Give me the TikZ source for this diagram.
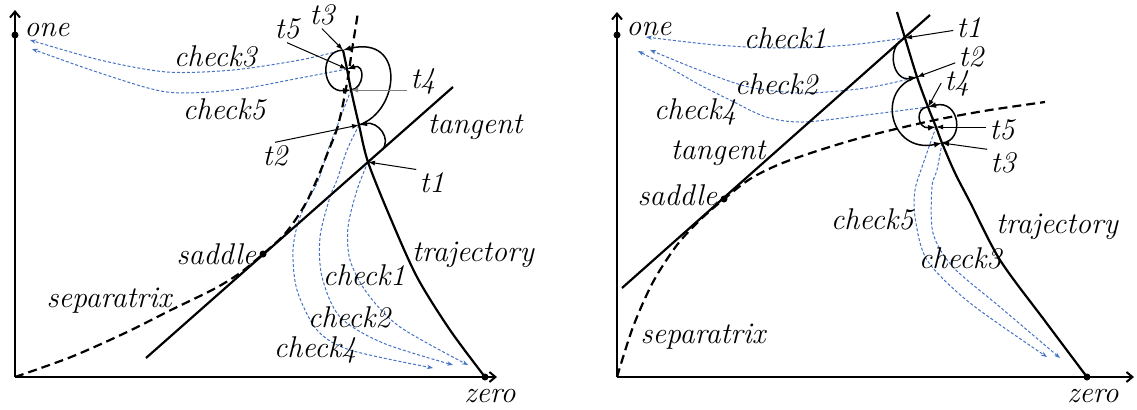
\documentclass[tikz,border=0pt]{standalone}
\usetikzlibrary{arrows.meta,positioning}
\definecolor{chkblue}{RGB}{68,114,196}
\begin{document}
\begin{tikzpicture}[x=0.5pt,y=0.5pt,
  lbl/.style={font=\fontsize{15}{17}\selectfont\itshape, inner sep=0pt},
  tlbl/.style={lbl, inner sep=1.5pt},
  blob/.style={circle, fill=black, inner sep=0pt, minimum size=3.5pt},
  axis/.style={line width=1pt, -{Straight Barb[length=3pt,width=5pt]}},
  curve/.style={line width=1.1pt},
  sepx/.style={line width=1.1pt, dash pattern=on 4.5pt off 2.5pt},
  turn/.style={line width=0.75pt, -{Latex[length=4pt,width=3pt]}},
  ptr/.style={line width=0.5pt, -{Latex[length=3.5pt,width=2.5pt]}},
  chk/.style={line width=0.5pt, chkblue, dash pattern=on 1.5pt off 1pt, -{Stealth[length=3pt,width=2.2pt]}}]
\useasboundingbox (0,0) rectangle (1137,409);
\coordinate (oL) at (15,32);
\node[blob] (oneL) at (15,374) {};
\node[blob] (zeroL) at (485,32) {};
\node[blob] (sadL) at (263,155) {};
\coordinate (tanLa) at (146,51);
\coordinate (tanLb) at (453,322);
\coordinate (a1L) at (382,259);
\coordinate (t1L) at (368,247);
\coordinate (t2L) at (359,284);
\coordinate (t4L) at (351,319);
\coordinate (t5L) at (347,340);
\coordinate (t3L) at (343,359);
\coordinate (e1L) at (468,44);
\coordinate (e2L) at (453,44);
\coordinate (e4L) at (433,41);
\coordinate (e3L) at (30,369);
\coordinate (e5L) at (32,360);
\draw[chk] plot[smooth] coordinates {(t1L) (357,219) (348,182) (350,149) (367,116) (400,82) (e1L)};
\draw[chk] plot[smooth] coordinates {(t2L) (347,259) (337,229) (330,212) (320,172) (322,132) (340,92) (383,66) (e2L)};
\draw[chk] plot[smooth] coordinates {(t4L) (338,285) (328,259) (318,228) (300,192) (293,159) (297,119) (317,79) (350,59) (e4L)};
\draw[chk] plot[smooth] coordinates {(t3L) (300,349) (233,339) (167,337) (100,349) (e3L)};
\draw[chk] plot[smooth] coordinates {(t5L) (300,331) (233,319) (167,317) (100,336) (e5L)};
\draw[axis] (oL) -- (15,399);
\draw[axis] (oL) -- (497,32);
\draw[curve] (tanLa) -- (tanLb);
\draw[curve] plot[smooth] coordinates {(zeroL.center) (450,79) (417,132) (390,192) (t1L) (t2L) (t4L) (t5L) (t3L)};
\draw[sepx] plot[smooth] coordinates {(oL) (71,52) (125,76) (171,99) (214,120) (240,136) (sadL.center) (283,173) (296,190) (307,208) (318,232) (328,257) (337,280) (343,305) (348,332) (352,359) (356,384) (358,397)};
\draw[turn] (a1L) .. controls (392,270) and (378,288) .. (t2L);
\draw[turn] (t2L) .. controls (400,298) and (406,374) .. (t3L);
\draw[turn] (t3L) .. controls (318,358) and (322,316) .. (t4L);
\draw[turn] (t4L) .. controls (364,320) and (366,346) .. (t5L);
\node[tlbl] (lt1L) at (432,226) {t1};
\node[tlbl] (lt2L) at (275,253) {t2};
\node[tlbl] (lt3L) at (322,394) {t3};
\node[tlbl] (lt4L) at (423,328) {t4};
\node[tlbl] (lt5L) at (287,380) {t5};
\draw[ptr] (lt1L.north west) -- (t1L);
\draw[ptr] (lt2L.north) -- (t2L);
\draw[ptr] (lt3L.south) -- (t3L);
\draw[ptr, black!50] (lt4L.west |- t4L) -- (t4L);
\draw[ptr] (lt5L.south) -- (t5L);
\node[lbl, right=2.5pt of oneL, yshift=2.5pt] (oneLt) {one};
\node[lbl, below=4pt of zeroL, xshift=2.5pt] (zeroLt) {zero};
\node[lbl, left=1.25pt of sadL] (sadLt) {saddle};
\node[lbl] (chk3Lt) at (215,353) {check3};
\node[lbl] (chk5Lt) at (224,300) {check5};
\node[lbl] (chk1Lt) at (364,134) {check1};
\node[lbl] (chk2Lt) at (349,92) {check2};
\node[lbl] (chk4Lt) at (315,59) {check4};
\node[lbl] (trajLt) at (473,154) {trajectory};
\node[lbl] (tanLt) at (475,282) {tangent};
\node[lbl] (sepLt) at (109,108) {separatrix};
\coordinate (oR) at (617,32);
\node[blob] (oneR) at (617,374) {};
\node[blob] (zeroR) at (1087,32) {};
\node[blob] (sadR) at (724,210) {};
\coordinate (tanRa) at (622,121);
\coordinate (tanRb) at (930,394);
\coordinate (t1R) at (905,371);
\coordinate (t2R) at (917,332);
\coordinate (t4R) at (928,302);
\coordinate (t5R) at (936,282);
\coordinate (t3R) at (942,266);
\coordinate (e1R) at (646,372);
\coordinate (e2R) at (650,359);
\coordinate (e4R) at (638,358);
\coordinate (e5R) at (1047,52);
\coordinate (e3R) at (1060,51);
\draw[chk] plot[smooth] coordinates {(t1R) (849,364) (783,361) (716,364) (e1R)};
\draw[chk] plot[smooth] coordinates {(t2R) (866,321) (803,316) (749,322) (699,339) (e2R)};
\draw[chk] plot[smooth] coordinates {(t4R) (866,294) (803,287) (766,292) (730,309) (700,324) (670,341) (e4R)};
\draw[chk] plot[smooth] coordinates {(t5R) (922,242) (915,219) (915,192) (927,149) (970,106) (e5R)};
\draw[chk] plot[smooth] coordinates {(t3R) (937,239) (932,222) (933,176) (953,142) (1000,102) (e3R)};
\draw[axis] (oR) -- (617,397);
\draw[axis] (oR) -- (1134,32);
\draw[curve] (tanRa) -- (tanRb);
\draw[curve] plot[smooth] coordinates {(897,397) (t1R) (t2R) (t4R) (t5R) (t3R) (955,236) (970,207) (1000,149) (1045,88) (zeroR.center)};
\draw[sepx] plot[smooth] coordinates {(oR) (633,82) (653,127) (677,164) (700,189) (sadR.center) (750,230) (780,245) (820,259) (860,271) (900,281) (940,290) (990,299) (1045,307)};
\draw[turn] (t1R) .. controls (885,362) and (893,327) .. (t2R);
\draw[turn] (t2R) .. controls (875,320) and (890,255) .. (t3R);
\draw[turn] (t3R) .. controls (965,268) and (960,310) .. (t4R);
\draw[turn] (t4R) .. controls (915,302) and (917,280) .. (t5R);
\node[tlbl] (lt1R) at (969,381) {t1};
\node[tlbl] (lt2R) at (971,352) {t2};
\node[tlbl] (lt4R) at (957,326) {t4};
\node[tlbl] (lt5R) at (1002,279) {t5};
\node[tlbl] (lt3R) at (1003,246) {t3};
\draw[ptr] (lt1R) -- (t1R);
\draw[ptr] (lt2R) -- (t2R);
\draw[ptr] (lt4R.west) -- (t4R);
\draw[ptr] (lt5R.west |- t5R) -- (t5R);
\draw[ptr] (lt3R.north west) -- (t3R);
\node[lbl, right=2.5pt of oneR, yshift=3pt] (oneRt) {one};
\node[lbl, below=4pt of zeroR, xshift=3pt] (zeroRt) {zero};
\node[lbl, left=1.25pt of sadR, yshift=2pt] (sadRt) {saddle};
\node[lbl] (chk1Rt) at (785,371) {check1};
\node[lbl] (chk2Rt) at (776,325) {check2};
\node[lbl] (chk4Rt) at (695,297) {check4};
\node[lbl] (tanRt) at (718,256) {tangent};
\node[lbl] (sepRt) at (703,72) {separatrix};
\node[lbl] (chk5Rt) at (872,190) {check5};
\node[lbl] (chk3Rt) at (960,151) {check3};
\node[lbl] (trajRt) at (1057,182) {trajectory};
\end{tikzpicture}
\end{document}
